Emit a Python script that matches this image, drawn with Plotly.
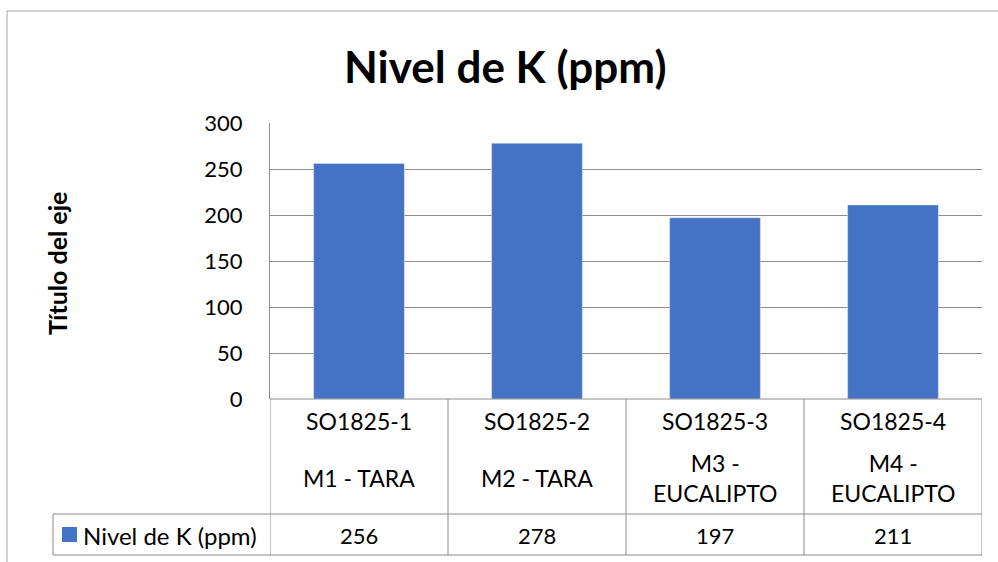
import plotly.graph_objects as go

# ---- data ----
codes = ["SO1825-1", "SO1825-2", "SO1825-3", "SO1825-4"]
samples = ["M1 - TARA", "M2 - TARA", "M3 -<br>EUCALIPTO", "M4 -<br>EUCALIPTO"]
values = [256, 278, 197, 211]
series_name = "Nivel de K (ppm)"
title_text = "Nivel de K (ppm)"
y_title = "Título del eje"
y_ticks = [0, 50, 100, 150, 200, 250, 300]

W, H = 998, 562
FONT = "Lato"
FS_NUM = 22
FS_TXT = 23
BAR = "#4472C4"
GRID = "#8c8c8c"

def px(x):
    return x / W

def py(y):
    return 1 - y / H

plot_left, plot_right = 270, 982
plot_top, plot_bot = 123, 399
row1_bot, row2_bot = 514, 555
legend_left = 53

fig = go.Figure()
fig.add_trace(go.Bar(x=codes, y=values, marker_color=BAR, name=series_name,
                     showlegend=False))

n = len(codes)
shapes = []
annotations = []

# outer chart border (left and top only visible)
shapes.append(dict(type="line", xref="paper", yref="paper", x0=px(7), x1=px(7),
                   y0=py(11), y1=0, line=dict(color="#a6a6a6", width=1)))
shapes.append(dict(type="line", xref="paper", yref="paper", x0=px(7), x1=1,
                   y0=py(11), y1=py(11), line=dict(color="#a6a6a6", width=1)))

# data table lines
for yy in [row1_bot, row2_bot]:
    shapes.append(dict(type="line", xref="paper", yref="paper",
                       x0=px(legend_left), x1=px(plot_right), y0=py(yy), y1=py(yy),
                       line=dict(color=GRID, width=1)))
for i in range(n + 1):
    shapes.append(dict(type="line", xref="x", yref="paper",
                       x0=i - 0.5, x1=i - 0.5, y0=py(plot_bot), y1=py(row2_bot),
                       line=dict(color=GRID, width=1)))
shapes.append(dict(type="line", xref="paper", yref="paper",
                   x0=px(legend_left), x1=px(legend_left), y0=py(row1_bot), y1=py(row2_bot),
                   line=dict(color=GRID, width=1)))
shapes.append(dict(type="line", xref="paper", yref="paper",
                   x0=px(plot_left), x1=px(plot_right), y0=py(plot_bot), y1=py(plot_bot),
                   line=dict(color=GRID, width=1)))

# legend key
shapes.append(dict(type="rect", xref="paper", yref="paper",
                   x0=px(62), x1=px(77), y0=py(527), y1=py(542),
                   fillcolor=BAR, line=dict(width=0)))
annotations.append(dict(text=series_name, xref="paper", yref="paper",
                        x=px(81), y=py(535), xanchor="left", yanchor="middle",
                        showarrow=False, font=dict(family=FONT, size=24, color="#000")))

# table text
for i in range(n):
    annotations.append(dict(text=codes[i], xref="x", yref="paper", x=codes[i],
                            y=py(421), xanchor="center", yanchor="middle", showarrow=False,
                            font=dict(family=FONT, size=FS_TXT, color="#000")))
    annotations.append(dict(text=samples[i], xref="x", yref="paper", x=codes[i],
                            y=py(478), xanchor="center", yanchor="middle", showarrow=False,
                            font=dict(family=FONT, size=FS_TXT, color="#000")))
    annotations.append(dict(text=str(values[i]), xref="x", yref="paper", x=codes[i],
                            y=py(535), xanchor="center", yanchor="middle", showarrow=False,
                            font=dict(family=FONT, size=FS_NUM, color="#000")))

# title and axis title
annotations.append(dict(text="<b>" + title_text + "</b>", xref="paper", yref="paper",
                        x=px(505), y=py(66), xanchor="center", yanchor="middle",
                        showarrow=False, font=dict(family=FONT, size=44, color="#000")))
annotations.append(dict(text="<b>" + y_title + "</b>", xref="paper", yref="paper",
                        x=px(57), y=py(264), xanchor="center", yanchor="middle",
                        textangle=-90, showarrow=False,
                        font=dict(family=FONT, size=25, color="#000")))

fig.update_layout(
    width=W, height=H,
    margin=dict(l=0, r=0, t=0, b=0, pad=0, autoexpand=False),
    paper_bgcolor="white", plot_bgcolor="white",
    bargap=0.49,
    shapes=shapes, annotations=annotations,
    xaxis=dict(domain=[px(plot_left), px(plot_right)], showticklabels=False,
               showgrid=False, zeroline=False, showline=False, ticks="",
               automargin=False, range=[-0.5, n - 0.5]),
    yaxis=dict(domain=[py(plot_bot), py(plot_top)], range=[0, 300],
               tickvals=y_ticks, showgrid=True, gridcolor=GRID, gridwidth=1,
               zeroline=False, showline=True, linecolor=GRID, linewidth=1,
               ticks="", ticklabelstandoff=22, automargin=False,
               tickfont=dict(family=FONT, size=FS_NUM, color="#000")),
)

fig.write_html("out.html", config={"displayModeBar": False},
               post_script="document.body.style.margin='0';document.body.style.overflow='hidden';")
